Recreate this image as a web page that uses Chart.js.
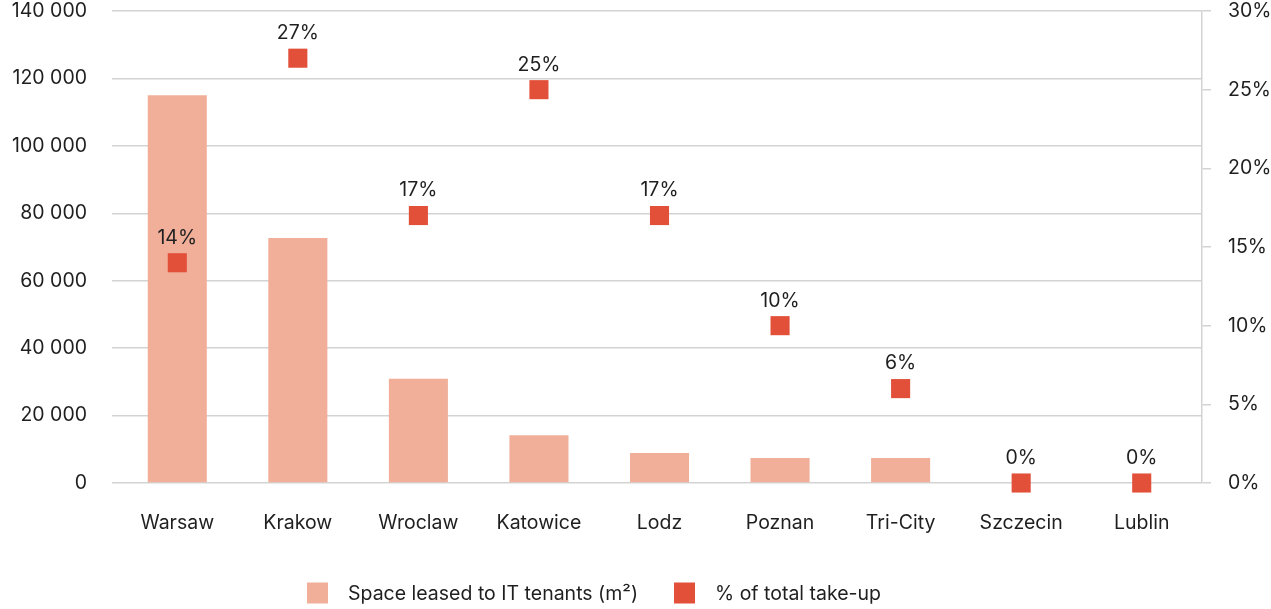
<!DOCTYPE html>
<html>
<head>
<meta charset="utf-8">
<script src="https://cdn.jsdelivr.net/npm/chart.js@4"></script>
<style>
  html, body { margin: 0; padding: 0; background: #fff; }
  #wrap { width: 1271px; height: 609px; position: relative; }
</style>
</head>
<body>
<div id="wrap"><canvas id="c"></canvas></div>
<script>
// Office take-up by IT tenants across regional markets
const cities = ['Warsaw', 'Krakow', 'Wroclaw', 'Katowice', 'Lodz', 'Poznan', 'Tri-City', 'Szczecin', 'Lublin'];
const spaceLeased = [115000, 72700, 30900, 14200, 8900, 7400, 7400, 0, 0];
const shareOfTakeUp = [14, 27, 17, 25, 17, 10, 6, 0, 0];
const leftTicks = [0, 20000, 40000, 60000, 80000, 100000, 120000, 140000];
const rightTicks = [0, 5, 10, 15, 20, 25, 30];

const FONT = 'Inter, "DejaVu Sans", sans-serif';
const FSIZE = 19.5;
const TEXT = '#1f1f1f';
const BAR = '#F1AF99';
const MARK = '#E2503A';
const GRID = '#d3d3d3';

const fmtThousands = v => String(v).replace(/\B(?=(\d{3})+(?!\d))/g, ' ');

// fixed axis box sizes so the plot area keeps its place
const fixBox = (w) => (s) => { s.width = w; s.paddingTop = 0; s.paddingBottom = 0; };

// value labels above the square markers
const pointLabels = {
  id: 'pointLabels',
  afterDatasetsDraw(chart) {
    const meta = chart.getDatasetMeta(1);
    const ctx = chart.ctx;
    ctx.save();
    ctx.font = FSIZE + 'px ' + FONT;
    ctx.fillStyle = TEXT;
    ctx.textAlign = 'center';
    ctx.textBaseline = 'middle';
    meta.data.forEach((pt, i) => {
      ctx.fillText(shareOfTakeUp[i] + '%', pt.x, pt.y - 25);
    });
    ctx.restore();
  }
};

// legend row under the axis
const bottomLegend = {
  id: 'bottomLegend',
  afterDraw(chart) {
    const ctx = chart.ctx;
    const items = chart.data.datasets.map(d => ({ label: d.label, color: d.legendColor }));
    const box = 21, gapText = 20, gapItem = 36, cy = 593;
    ctx.save();
    ctx.font = FSIZE + 'px ' + FONT;
    ctx.textBaseline = 'middle';
    ctx.textAlign = 'left';
    let x = 307;
    items.forEach(it => {
      ctx.fillStyle = it.color;
      ctx.fillRect(x, cy - box / 2, box, box);
      ctx.fillStyle = TEXT;
      ctx.fillText(it.label, x + box + gapText, cy + 1);
      x += box + gapText + ctx.measureText(it.label).width + gapItem;
    });
    ctx.restore();
  }
};

new Chart(document.getElementById('c'), {
  data: {
    labels: cities,
    datasets: [
      {
        type: 'bar',
        label: 'Space leased to IT tenants (m\u00B2)',
        data: spaceLeased,
        backgroundColor: BAR,
        legendColor: BAR,
        yAxisID: 'y',
        barPercentage: 0.49,
        categoryPercentage: 1,
        order: 2
      },
      {
        type: 'line',
        label: '% of total take-up',
        data: shareOfTakeUp,
        showLine: false,
        pointStyle: 'rect',
        pointRadius: 13.5,
        pointHoverRadius: 13.5,
        pointBackgroundColor: MARK,
        pointBorderWidth: 0,
        legendColor: MARK,
        yAxisID: 'y1',
        order: 1,
        clip: false
      }
    ]
  },
  options: {
    responsive: true,
    maintainAspectRatio: false,
    animation: false,
    layout: { autoPadding: false, padding: { left: 0, right: 0, top: 11, bottom: 0 } },
    plugins: {
      legend: { display: false },
      tooltip: { enabled: false }
    },
    scales: {
      x: {
        afterFit: s => { s.height = 126; s.paddingLeft = 0; s.paddingRight = 0; },
        grid: { display: false, drawTicks: false },
        border: { display: false },
        ticks: { color: TEXT, font: { family: FONT, size: FSIZE }, padding: 28 }
      },
      y: {
        position: 'left',
        min: 0,
        max: 140000,
        afterFit: fixBox(117),
        afterBuildTicks: s => { s.ticks = leftTicks.map(v => ({ value: v })); },
        grid: { color: GRID, lineWidth: 1.5, drawTicks: true, tickLength: 5 },
        border: { display: false },
        ticks: {
          color: TEXT,
          font: { family: FONT, size: FSIZE },
          padding: 25,
          callback: v => fmtThousands(v)
        }
      },
      y1: {
        position: 'right',
        min: 0,
        max: 30,
        afterFit: fixBox(69),
        afterBuildTicks: s => { s.ticks = rightTicks.map(v => ({ value: v })); },
        grid: { drawOnChartArea: false, drawTicks: true, tickLength: 9, color: GRID, lineWidth: 1.5 },
        border: { display: true, color: GRID, width: 1.5 },
        ticks: {
          color: TEXT,
          font: { family: FONT, size: FSIZE },
          padding: 17,
          callback: v => v + '%'
        }
      }
    }
  },
  plugins: [pointLabels, bottomLegend]
});
</script>
</body>
</html>
